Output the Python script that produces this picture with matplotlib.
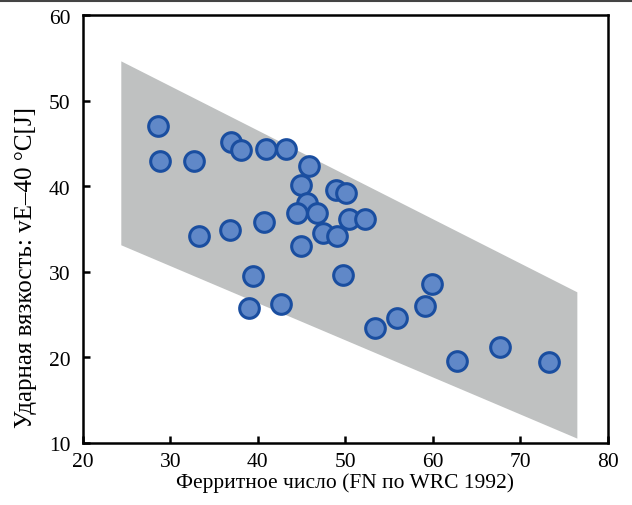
import matplotlib
matplotlib.use('Agg')
import matplotlib.pyplot as plt
from matplotlib.lines import Line2D
from matplotlib.transforms import ScaledTranslation
import numpy as np

plt.rcParams['font.family'] = ['Liberation Serif', 'DejaVu Serif']

# ferrite number vs impact toughness
fn = [28.6, 28.8, 32.7, 33.3, 36.9, 38.1, 40.9, 43.2, 36.8, 40.7, 39.5, 39.0,
      42.6, 45.8, 44.9, 45.6, 44.5, 46.7, 44.9, 47.4, 49.0, 48.9, 50.1, 50.4,
      52.2, 49.7, 53.4, 55.9, 59.1, 59.9, 62.7, 67.7, 73.3]
ve = [47.0, 42.9, 42.9, 34.2, 45.2, 44.2, 44.3, 44.3, 34.9, 35.8, 29.5, 25.8,
      26.2, 42.4, 40.1, 38.0, 36.9, 36.9, 33.0, 34.5, 34.2, 39.6, 39.2, 36.2,
      36.2, 29.6, 23.4, 24.6, 26.0, 28.6, 19.6, 21.2, 19.5]

# scatter band corners
band_x = [24.4, 76.5, 76.5, 24.4]
band_y = [54.6, 27.6, 10.5, 33.1]

fig = plt.figure(figsize=(6.32, 5.05), dpi=100)
ax = fig.add_axes([0.131, 0.123, 0.831, 0.847])

ax.fill(band_x, band_y, color='#bfc1c1', lw=0, zorder=1)
ax.scatter(fn, ve, s=200, facecolor='#6088c8', edgecolor='#1a4ea0',
           linewidth=2.2, zorder=3)

ax.set_xlim(20, 80)
ax.set_ylim(10, 60)
ax.set_xticks(np.arange(20, 81, 10))
ax.set_yticks(np.arange(10, 61, 10))
ax.tick_params(direction='in', length=5, width=1.8, labelsize=15.5,
               top=False, right=False)
ax.tick_params(axis='x', pad=7)
ax.tick_params(axis='y', pad=9)
shift = ScaledTranslation(0, -4 / 100, fig.dpi_scale_trans)
for lab in ax.get_yticklabels():
    lab.set_va('center')
    lab.set_transform(lab.get_transform() + shift)
for s in ax.spines.values():
    s.set_linewidth(1.8)

ax.set_xlabel('Ферритное число (FN по WRC 1992)', fontsize=15.5)
ax.set_ylabel('Ударная вязкость: vE–40 °C[J]', fontsize=18)
ax.xaxis.set_label_coords(0.5, -0.072)
ax.yaxis.set_label_coords(-0.088, 0.41)

fig.add_artist(Line2D([0, 1], [0.998, 0.998], color='#444444', lw=1.5,
                      transform=fig.transFigure))

fig.savefig('out.png', dpi=100)
